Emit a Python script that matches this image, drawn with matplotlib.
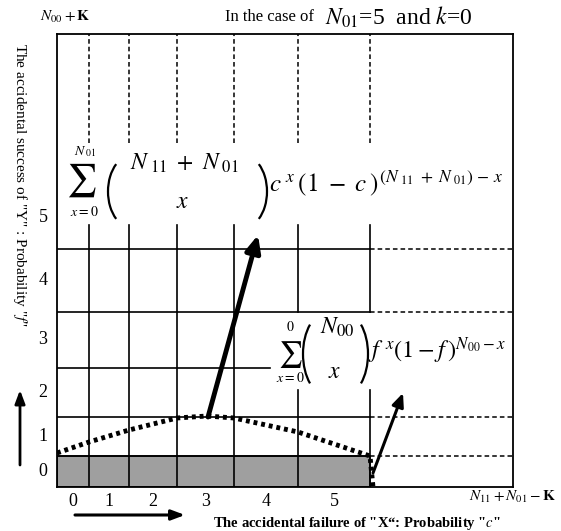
import matplotlib
matplotlib.use("Agg")
import matplotlib.pyplot as plt
from matplotlib.patches import Arc

plt.rcParams['font.family'] = ['Liberation Serif', 'DejaVu Serif']
plt.rcParams['mathtext.fontset'] = 'stix'

# ------------------------
# Grid layout (units ~ pixels inside the box)
# ------------------------
x_labels = ['0', '1', '2', '3', '4', '5']
y_labels = ['0', '1', '2', '3', '4', '5']
col_edges = [0, 32, 72, 120, 177, 241, 313]   # left edges of columns, last = end of grid
row_edges = [0, 31, 70, 119, 175, 238, 302]   # bottom edges of rows
x_max = 456
y_max = 453

# dotted curve
curve_x = [0, 32, 72, 120, 150, 177, 241, 313, 316]
curve_y = [34, 45, 57, 69, 71, 69, 55, 31, 0]

# shaded band (accumulated part)
band_height = 31


def paren(ax, x_edge, yc, h, left=True, bulge=12, lw=1.6):
    # tall thin bracket drawn as an elliptic arc
    a = 2 * bulge
    r = h / (2 * 0.866)
    if left:
        ax.add_patch(Arc((x_edge + a, yc), 2 * a, 2 * r, theta1=120, theta2=240,
                         lw=lw, color='black', zorder=5))
    else:
        ax.add_patch(Arc((x_edge - a, yc), 2 * a, 2 * r, theta1=-60, theta2=60,
                         lw=lw, color='black', zorder=5))


fig = plt.figure(figsize=(5.61, 5.31), dpi=100)
ax = fig.add_axes([57/561, 44/531, 456/561, 453/531])
ax.set_xlim(0, x_max)
ax.set_ylim(0, y_max)
ax.set_xticks([])
ax.set_yticks([])
for s in ax.spines.values():
    s.set_linewidth(1.3)

# shaded band
ax.bar(0, band_height, width=col_edges[-1], align='edge', color='#9f9f9f',
       edgecolor='black', linewidth=1.2, zorder=1)

# vertical lines
for i, xv in enumerate(col_edges[1:]):
    # dashed part at the top
    ax.plot([xv, xv], [344, y_max], color='black', lw=1.1, ls=(0, (3, 2)), zorder=2)
    if i >= 4:
        ax.plot([xv, xv], [175, 262], color='black', lw=1.2, zorder=2)
        ax.plot([xv, xv], [0, 97], color='black', lw=1.2, zorder=2)
    else:
        ax.plot([xv, xv], [0, 262], color='black', lw=1.2, zorder=2)

# horizontal lines
for yv in row_edges[1:-1]:
    if yv == 119:
        ax.plot([0, 213], [yv, yv], color='black', lw=1.2, zorder=2)
        continue
    ax.plot([0, col_edges[-1]], [yv, yv], color='black', lw=1.2, zorder=2)
    ax.plot([col_edges[-1], x_max], [yv, yv], color='black', lw=1.1,
            ls=(0, (3, 2)), zorder=2)

# dotted curve
ax.plot(curve_x, curve_y, color='black', lw=3.5, ls=(0, (0.8, 0.8)), zorder=3)

# arrows
ax.annotate('', xy=(201, 252), xytext=(151, 70),
            arrowprops=dict(arrowstyle='-|>,head_length=1.0,head_width=0.45',
                            color='black', lw=3.5, shrinkA=0, shrinkB=0), zorder=4)
ax.annotate('', xy=(346, 94), xytext=(316, 14),
            arrowprops=dict(arrowstyle='-|>,head_length=0.8,head_width=0.35',
                            color='black', lw=2.2, shrinkA=0, shrinkB=0), zorder=4)

# ------------------------
# formula 1: sum over c
ax.text(24, 307, r'$\sum$', fontsize=24, ha='center', va='center', zorder=5)
ax.text(28, 335, r'$N_{\ 01}$', fontsize=10, ha='center', va='center', zorder=5)
ax.text(27, 275, r'$x=0$', fontsize=10, ha='center', va='center', zorder=5)
paren(ax, 51, 295.5, 63, left=True)
paren(ax, 210, 295.5, 63, left=False)
ax.text(127, 324, r'$N_{\ 11}\ +\ N_{\ 01}$', fontsize=17, ha='center', va='center', zorder=5)
ax.text(126, 284, r'$x$', fontsize=17, ha='center', va='center', zorder=5)
ax.text(212, 304, r'$c^{\ x}\,(1\ -\ c\,)^{\,(N_{\ 11}\ +\ N_{\ 01})\,-\,x}$', fontsize=18,
        ha='left', va='center', zorder=5)

# formula 2: sum over f
ax.text(233, 132, r'$\sum$', fontsize=19, ha='center', va='center', zorder=5)
ax.text(233, 160, r'$0$', fontsize=10, ha='center', va='center', zorder=5)
ax.text(233, 109, r'$x=0$', fontsize=10, ha='center', va='center', zorder=5)
paren(ax, 246, 133, 72, left=True)
paren(ax, 311, 133, 72, left=False)
ax.text(280, 160, r'$N_{00}$', fontsize=17, ha='center', va='center', zorder=5)
ax.text(278, 115, r'$x$', fontsize=17, ha='center', va='center', zorder=5)
ax.text(311, 136, r'$f^{\ x}(1-f\,)^{N_{00}-x}$', fontsize=17.5,
        ha='left', va='center', zorder=5)

# tick labels
for i, lab in enumerate(x_labels):
    xc = (col_edges[i] + col_edges[i + 1]) / 2
    ax.text(xc, -15, lab, fontsize=13, ha='center', va='center', clip_on=False)
for i, lab in enumerate(y_labels):
    yc = (row_edges[i] + row_edges[i + 1]) / 2
    ax.text(-14, yc, lab, fontsize=13, ha='center', va='center', clip_on=False)

# header texts
ax.text(8, 470, r'$N_{00}+\mathbf{K}$', fontsize=11, ha='center', va='center')
ax.text(168, 470, 'In the case of', fontsize=12, ha='left', va='center')
ax.text(268, 470, r'$N_{01}$=5  and $k$=0', fontsize=17, ha='left', va='center')
ax.text(455, -10, r'$N_{11}+N_{01}-\mathbf{K}$', fontsize=11, ha='center', va='center')

# axis captions with arrows
ax.text(300, -36, 'The accidental failure of "X“: Probability "$c$"', fontsize=10.5,
        fontweight='bold', ha='center', va='center')
ax.annotate('', xy=(128, -28), xytext=(18, -28), annotation_clip=False,
            arrowprops=dict(arrowstyle='-|>,head_length=0.8,head_width=0.3',
                            color='black', lw=2.2, shrinkA=0, shrinkB=0))
ax.text(-37, 302, 'The accidental success of "Y" : Probability "$f$"', fontsize=11,
        rotation=270, ha='center', va='center')
ax.annotate('', xy=(-37, 97), xytext=(-37, 22), annotation_clip=False,
            arrowprops=dict(arrowstyle='-|>,head_length=0.8,head_width=0.3',
                            color='black', lw=2.0, shrinkA=0, shrinkB=0))

fig.savefig('out.png', dpi=100)
